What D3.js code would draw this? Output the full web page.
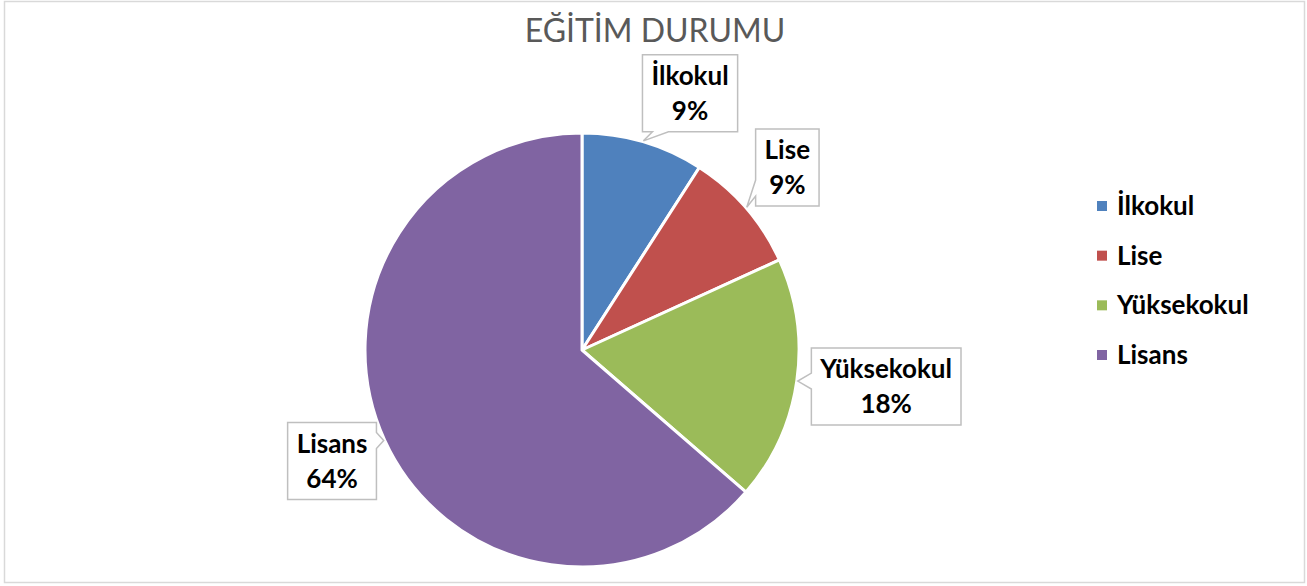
<!DOCTYPE html>
<html>
<head>
<meta charset="utf-8">
<script src="https://cdn.jsdelivr.net/npm/d3@7"></script>
<style>
  html, body { margin: 0; padding: 0; background: #ffffff; }
  svg { display: block; }
</style>
</head>
<body>
<svg id="chart" width="1307" height="586"></svg>
<script>
// ---- data ----
const chartTitle = "EĞİTİM DURUMU";
const categories = ["İlkokul", "Lise", "Yüksekokul", "Lisans"];
const counts = [1, 1, 2, 7];
const colors = ["#4f81bd", "#c0504d", "#9bbb59", "#8064a2"];

// ---- layout ----
const W = 1307, H = 586;
const cx = 582, cy = 350, R = 217;
const labelFont = "Lato, 'Noto Sans', sans-serif";
const labelSize = 26;
const labelRadius = 277;
const labelNudge = [[30, 9], [-4, -1], [30, -3], [2, -4]];

const svg = d3.select("#chart");

// outer border
svg.append("rect")
  .attr("x", 4.5).attr("y", 1.5)
  .attr("width", 1300).attr("height", 581)
  .attr("fill", "#ffffff")
  .attr("stroke", "#d9d9d9").attr("stroke-width", 1.5);

// title
svg.append("text")
  .attr("x", 655).attr("y", 42)
  .attr("text-anchor", "middle")
  .attr("font-family", labelFont)
  .attr("font-size", 32)
  .attr("fill", "#595959")
  .text(chartTitle);

const total = d3.sum(counts);
const pct = d3.format(".0%");
const pie = d3.pie().sort(null).value(d => d);
const arcs = pie(counts);
const arc = d3.arc().innerRadius(0).outerRadius(R);
const labelArc = d3.arc().innerRadius(labelRadius).outerRadius(labelRadius);
const tipArc = d3.arc().innerRadius(R + 1).outerRadius(R + 1);

const g = svg.append("g").attr("transform", `translate(${cx},${cy})`);

g.selectAll("path.slice")
  .data(arcs)
  .join("path")
  .attr("class", "slice")
  .attr("d", arc)
  .attr("fill", (d, i) => colors[i])
  .attr("stroke", "#ffffff")
  .attr("stroke-width", 3)
  .attr("stroke-linejoin", "round");

// callout labels
function calloutPath(x0, y0, x1, y1, tx, ty) {
  const dxOut = Math.max(x0 - tx, tx - x1, 0);
  const dyOut = Math.max(y0 - ty, ty - y1, 0);
  let side;
  if (dxOut >= dyOut) side = tx < x0 ? "left" : "right";
  else side = ty < y0 ? "top" : "bottom";
  const half = 8, m = 10;
  const clamp = (v, a, b) => Math.max(a, Math.min(b, v));
  let p = `M${x0},${y0}`;
  if (side === "top") {
    const c = clamp(tx, x0 + m + half, x1 - m - half);
    p += `L${c - half},${y0}L${tx},${ty}L${c + half},${y0}`;
  }
  p += `L${x1},${y0}`;
  if (side === "right") {
    const c = clamp(ty, y0 + m + half, y1 - m - half);
    p += `L${x1},${c - half}L${tx},${ty}L${x1},${c + half}`;
  }
  p += `L${x1},${y1}`;
  if (side === "bottom") {
    const c = clamp(tx, x0 + m + half, x1 - m - half);
    p += `L${c + half},${y1}L${tx},${ty}L${c - half},${y1}`;
  }
  p += `L${x0},${y1}`;
  if (side === "left") {
    const c = clamp(ty, y0 + m + half, y1 - m - half);
    p += `L${x0},${c + half}L${tx},${ty}L${x0},${c - half}`;
  }
  p += "Z";
  return p;
}

const lg = g.append("g");
arcs.forEach((d, i) => {
  const c = labelArc.centroid(d);
  const bx = c[0] + labelNudge[i][0], by = c[1] + labelNudge[i][1];
  const t = tipArc.centroid(d);
  const grp = lg.append("g");
  const path = grp.append("path");
  const txt = grp.append("text")
    .attr("font-family", labelFont)
    .attr("font-size", labelSize)
    .attr("font-weight", "bold")
    .attr("fill", "#000000")
    .attr("text-anchor", "middle");
  const boxH = 77;
  const top = by - boxH / 2;
  const l1 = txt.append("tspan").attr("x", bx).attr("y", top + 30).text(categories[i]);
  const l2 = txt.append("tspan").attr("x", bx).attr("y", top + 65).text(pct(counts[i] / total));
  const tw = Math.max(l1.node().getComputedTextLength(), l2.node().getComputedTextLength());
  const boxW = tw + 18;
  const x0 = bx - boxW / 2, x1 = bx + boxW / 2, y0 = top, y1 = top + boxH;
  path.attr("d", calloutPath(x0, y0, x1, y1, t[0], t[1]))
    .attr("fill", "#ffffff")
    .attr("stroke", "#bfbfbf")
    .attr("stroke-width", 1.5)
    .attr("stroke-linejoin", "miter");
});

// legend
const legendY = d3.scalePoint().domain(categories).range([206, 355]);
const leg = svg.append("g");
categories.forEach((c, i) => {
  const y = legendY(c);
  leg.append("rect")
    .attr("x", 1097).attr("y", y - 5)
    .attr("width", 10).attr("height", 10)
    .attr("fill", colors[i]);
  leg.append("text")
    .attr("x", 1117).attr("y", y + 9)
    .attr("font-family", labelFont)
    .attr("font-size", labelSize)
    .attr("font-weight", "bold")
    .attr("fill", "#000000")
    .text(c);
});
</script>
</body>
</html>
